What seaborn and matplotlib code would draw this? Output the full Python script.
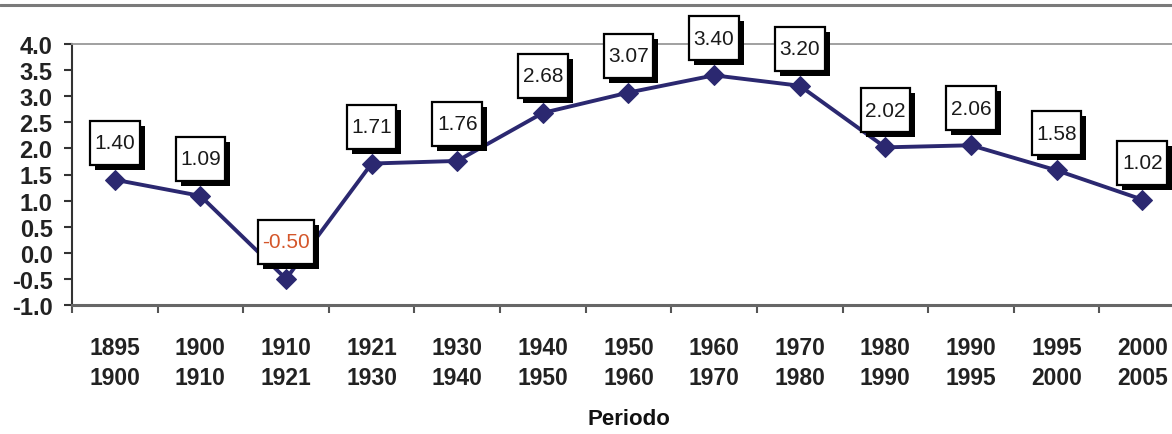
import matplotlib
matplotlib.use("Agg")
import matplotlib.pyplot as plt
import matplotlib.patheffects as pe
from matplotlib.path import Path
from matplotlib.lines import Line2D
import seaborn as sns
import pandas as pd
import numpy as np

# ---- data ----
periodo_inicio = ["1895", "1900", "1910", "1921", "1930", "1940", "1950",
                  "1960", "1970", "1980", "1990", "1995", "2000"]
periodo_fin = ["1900", "1910", "1921", "1930", "1940", "1950", "1960",
               "1970", "1980", "1990", "1995", "2000", "2005"]
tasa = [1.40, 1.09, -0.50, 1.71, 1.76, 2.68, 3.07, 3.40, 3.20, 2.02, 2.06, 1.58, 1.02]
y_ticks = [-1.0, -0.5, 0.0, 0.5, 1.0, 1.5, 2.0, 2.5, 3.0, 3.5, 4.0]

labels = [f"{a}\n{b}" for a, b in zip(periodo_inicio, periodo_fin)]
df = pd.DataFrame({"idx": np.arange(len(tasa)), "tasa": tasa})

sns.set_theme(style="white")
plt.rcParams["font.family"] = ["Liberation Sans", "DejaVu Sans"]

W, H = 1172, 435
fig = plt.figure(figsize=(W / 100, H / 100), dpi=100)
ax = fig.add_axes([72 / W, (H - 306) / H, (1185 - 72) / W, (306 - 45) / H])

navy = "#2b2870"
sns.lineplot(data=df, x="idx", y="tasa", ax=ax, color=navy, linewidth=2.8,
             marker="D", markersize=10, markeredgecolor=navy, markerfacecolor=navy,
             zorder=3)

ax.set_xlim(-0.5, len(tasa) - 0.5)
ax.set_ylim(-1.0, 4.0)
ax.set_yticks(y_ticks)
ax.set_yticklabels([f"{v:.1f}" for v in y_ticks], fontweight="bold")
ax.set_xticks(np.arange(len(tasa)))
ax.set_xticklabels(labels, linespacing=1.4, fontweight="bold")
ax.set_xticks(np.arange(len(tasa) + 1) - 0.5, minor=True)
ax.tick_params(axis="x", which="major", length=0, pad=22, labelsize=16.5, colors="#222222")
ax.tick_params(axis="x", which="minor", length=6, width=1.5, direction="out",
               color="#555555", bottom=True)
ax.tick_params(axis="y", length=6, width=1.5, direction="out", color="#333333",
               pad=8, labelsize=17, labelcolor="#222222", left=True)
ax.set_xlabel("Periodo", fontsize=16, fontweight="bold", labelpad=14, color="#111111")
ax.set_ylabel("")

ax.spines["right"].set_visible(False)
ax.spines["top"].set_color("#999999")
ax.spines["top"].set_linewidth(1.3)
ax.spines["left"].set_color("#333333")
ax.spines["left"].set_linewidth(1.5)
ax.spines["bottom"].set_color("#666666")
ax.spines["bottom"].set_linewidth(2.2)


def box_style(x0, y0, width, height, mutation_size):
    cx = x0 + width / 2
    cy = y0 + height / 2
    bw = width + 9
    bh = 44
    l, r = cx - bw / 2, cx + bw / 2
    b, t = cy - bh / 2, cy + bh / 2
    return Path([(l, b), (r, b), (r, t), (l, t), (l, b)],
                [Path.MOVETO, Path.LINETO, Path.LINETO, Path.LINETO, Path.CLOSEPOLY])


for i, v in enumerate(tasa):
    col = "#d4562a" if v < 0 else "#1a1a1a"
    ann = ax.annotate(f"{v:.2f}", xy=(i, v), xytext=(0, 26.6), textcoords="offset points",
                      ha="center", va="center", fontsize=15, color=col, zorder=5,
                      bbox=dict(boxstyle=box_style, facecolor="white",
                                edgecolor="black", linewidth=1.6))
    ann.get_bbox_patch().set_path_effects([
        pe.SimplePatchShadow(offset=(3.6, -3.6), shadow_rgbFace="black", alpha=1.0),
        pe.Normal()])

fig.add_artist(Line2D([0, 1], [1 - 6 / H, 1 - 6 / H], transform=fig.transFigure,
                      color="#7a7a7a", linewidth=2.2))

fig.savefig("out.png", dpi=100)
